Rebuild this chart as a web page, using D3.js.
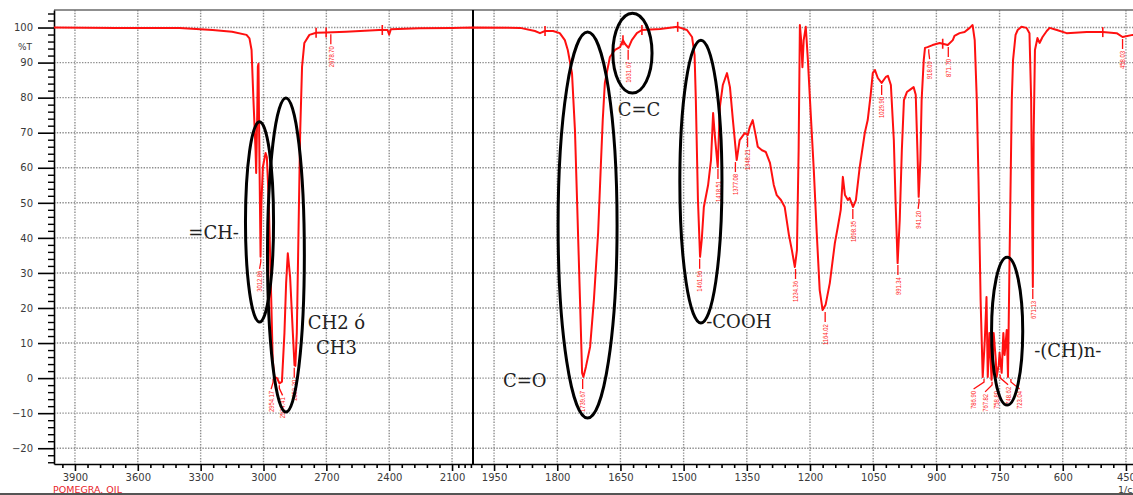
<!DOCTYPE html>
<html><head><meta charset="utf-8">
<script src="https://cdn.jsdelivr.net/npm/d3@7"></script>
<style>html,body{margin:0;padding:0;background:#fff;overflow:hidden}</style>
</head><body>
<svg id="chart" width="1133" height="495"></svg>
<script>
// ---------- DATA ----------
const wavenumber = [
 4000,3700,3400,3243,3150,3081,3067,3057,3048,3038,3035,3030,3027,3024,3019,3014,3010,3003,2990,2984,
 2975,2963,2956,2948,2935,2924,2912,2900,2892,2884,2873,2860,2852,2848,2841,2833,2825,2816,2805,2781,
 2749,2701,2606,2448,2408,2400,2392,2257,2100,2000,
 1888,1853,1841,1829,1810,1794,1782,1775,1765,1758,1753,1746,1741,1738,1732,1722,1713,1703,1696,1692,
 1687,1675,1663,1651,1644,1639,1631,1623,1611,1599,1556,1514,1492,1480,1474,1471,1466,1461,1457,1452,
 1442,1435,1430,1426,1419,1414,1407,1397,1390,1383,1374,1367,1355,1348,1343,1336,1329,1324,1314,1305,
 1295,1286,1279,1269,1260,1250,1243,1236,1231,1227,1224,1221,1218,1215,1210,1205,1200,1191,1184,1177,
 1170,1163,1153,1141,1134,1127,1122,1117,1110,1106,1098,1091,1082,1070,1063,1056,1051,1046,1039,1030,
 1020,1015,1008,1001,997,992,987,982,977,970,963,954,949,945,942,938,935,930,927,921,
 909,892,873,861,857,845,833,821,814,809,804,800,795,790,785,781,778,774,769,764,
 759,757,752,750,745,741,738,733,730,726,721,718,712,707,698,686,679,675,671,669,
 666,660,655,648,638,631,614,591,543,505,472,458,434,400
];
const transmittance = [
 100.0,99.9,99.9,99.3,98.8,97.9,96.9,93.6,79.3,65,58.5,75,88.8,89.7,60.2,34.6,50,60.2,64.2,63,
 50.8,22.3,5.2,0.3,0,-1.5,-1,12.9,27.1,35.6,28.9,12.9,3.7,3.5,12.9,41.4,69.9,88.8,95.6,97.9,
 98.5,98.6,98.8,99.3,99.3,98.0,99.5,99.8,99.9,100,
 99.9,99.0,98.4,99.0,99.0,98.4,96.4,93.6,87,70.8,50.8,22.3,1.5,0.3,3.2,8.9,22.3,41.4,62.2,73.6,
 84.2,91.6,93.6,94.4,96.4,95.3,94.2,96.4,98.4,99.3,99.6,100.2,99.3,97.3,92.2,79.3,50.8,34.6,39.4,48.8,
 55,62.2,75.6,69.3,60.2,77.3,83.6,87,83,73.6,62.2,67.9,69.9,69.3,71.6,73.6,69.3,66,65,64.5,
 61.4,55.1,52.2,50.8,48.8,40.8,36.5,31.7,36.5,65,100.7,96.4,88.7,96.4,100.2,90.7,79.3,59.4,41.4,25.1,
 19.4,20.9,27.1,38.5,43.1,48,57.4,52.2,50.8,51.4,48.8,50.8,60.2,69.9,73.6,80.8,87,87.9,85.6,84.2,
 85.9,86.2,83.6,67.9,50.8,32.8,45.1,65,79.3,81.6,82.2,83,80.8,65,51.7,62.2,79.3,90.7,94.2,94.4,
 95,95.6,95,96.4,97.6,98.4,98.7,99.9,100.7,96.4,79.3,56.5,22.3,0.3,10.9,23.1,0.3,12.9,-0.5,12.9,
 5.2,0.3,3.7,7.2,1.5,12.9,6.6,13.7,0.3,36.5,79.3,90.7,97.9,99.3,100.2,99.9,98.4,79.3,26,69.9,
 93.6,97,95.6,97.3,99,99.9,99.3,98.4,98.7,98.7,98.4,97.3,97.9,97.9
];

const peakWn    = [3012.86,2954.17,2924.41,2853.20,2678.70,1739.67,1631.67,1461.96,1418.51,1377.08,1348.21,1234.36,1164.02,1098.35,1029.90,991.34,941.20,918.09,871.70,786.90,767.82,758.80,748.62,723.04,671.13,458.03];
const peakText  = ["3012.86","2954.17","2924.41","2853.20","2678.70","1739.67","1631.67","1461.96","1418.51","1377.08","1348.21","1234.36","1164.02","1098.35","1029.90","991.34","941.20","918.09","871.70","786.90","767.82","758.80","748.62","723.04","671.13","458.03"];
const markerWn  = [2749,2701,2433,1829,1644,1599,1514,885,505];

const xMajorTicks = [3900,3600,3300,3000,2700,2400,2100,1950,1800,1650,1500,1350,1200,1050,900,750,600,450];
const yMajorTicks = [-20,-10,0,10,20,30,40,50,60,70,80,90,100];

// group annotations: wavenumber span, %T span of ellipse
const groupNames = ["=CH-","CH2/CH3","C=O","C=C","-COOH","-(CH)n-"];
const ellWnHi  = [3086,2981,1798,1668,1509,769];
const ellWnLo  = [2952,2805,1658,1575,1409,695];
const ellTHi   = [73.1,79.9,98.7,104.1,96.4,34.5];
const ellTLo   = [16.0,-9.7,-11.4,81.3,15.7,-7.7];

const noteLines = [["=CH-"],["CH2 ó","CH3"],["C=O"],["C=C"],["-COOH"],["-(CH)n-"]];
const noteWn    = [3238,2652,1877,1606,1369,588];
const noteT     = [39.7,14.0,-2.5,74.8,14.3,6.0];

// ---------- LAYOUT ----------
const svg = d3.select("#chart");
const L = 54, T0 = 10, B = 464, R = 1133;
const x = d3.scaleLinear().domain([4000, 2000, 400]).range([L, 473, 1147]);
const y = d3.scaleLinear().domain([-24.5, 105]).range([B, T0]);

svg.append("rect").attr("width",1133).attr("height",495).attr("fill","#fff");

// grid
const grid = svg.append("g").attr("stroke","#8e8e8e").attr("stroke-width",1.4).attr("stroke-dasharray","1.4,1.4");
grid.selectAll("line.h").data(yMajorTicks).join("line")
  .attr("x1",L).attr("x2",R).attr("y1",d=>y(d)).attr("y2",d=>y(d));
grid.selectAll("line.v").data(xMajorTicks).join("line")
  .attr("y1",T0).attr("y2",B).attr("x1",d=>x(d)).attr("x2",d=>x(d));

// frame
svg.append("line").attr("x1",L).attr("x2",R).attr("y1",T0).attr("y2",T0).attr("stroke","#6a6a6a").attr("stroke-width",1.5);
svg.append("line").attr("x1",x(2000)).attr("x2",x(2000)).attr("y1",T0).attr("y2",B).attr("stroke","#000").attr("stroke-width",2);
svg.append("line").attr("x1",0).attr("x2",1133).attr("y1",494).attr("y2",494).attr("stroke","#555").attr("stroke-width",2);

// axes
const fontAx = "'DejaVu Sans', Verdana, sans-serif";
function styleAxis(g){
  g.select(".domain").attr("stroke","#000").attr("stroke-width",1.6);
  g.selectAll(".tick line").attr("stroke","#000").attr("stroke-width",1.6);
  g.selectAll(".tick text").attr("fill","#3a3a3a").style("font-family",fontAx).style("font-size","10px");
}
const xMinor = d3.range(3960,2099,-60).filter(v=>!xMajorTicks.includes(v)).concat([2070,2040,2010])
  .concat(d3.range(1980,419,-30).filter(v=>!xMajorTicks.includes(v)));
svg.append("g").attr("transform",`translate(0,${B})`)
  .call(d3.axisBottom(x).tickValues(xMinor).tickSize(4).tickFormat(""))
  .call(g=>{g.select(".domain").remove(); g.selectAll(".tick line").attr("stroke","#000").attr("stroke-width",1.6);});
svg.append("g").attr("transform",`translate(0,${B})`)
  .call(d3.axisBottom(x).tickValues(xMajorTicks).tickSize(7).tickSizeOuter(0).tickPadding(3).tickFormat(d3.format("d")))
  .call(styleAxis);

const yMinor = d3.range(-24,105,2).filter(v=>v%10!==0);
svg.append("g").attr("transform",`translate(${L},0)`)
  .call(d3.axisLeft(y).tickValues(yMinor).tickSize(6).tickFormat(""))
  .call(g=>{g.select(".domain").remove(); g.selectAll(".tick line").attr("stroke","#000").attr("stroke-width",1.4);});
svg.append("g").attr("transform",`translate(${L},0)`)
  .call(d3.axisLeft(y).tickValues(yMajorTicks).tickSize(16).tickSizeOuter(0).tickPadding(5))
  .call(styleAxis);

svg.append("text").attr("x",32).attr("y",50).attr("text-anchor","end")
  .style("font-family",fontAx).style("font-size","9px").attr("fill","#3a3a3a").text("%T");
svg.append("text").attr("x",53).attr("y",492.5).style("font-family",fontAx).style("font-size","9.5px")
  .attr("fill","#e8232a").text("POMEGRA. OIL");
svg.append("text").attr("x",1118).attr("y",492.5).style("font-family",fontAx).style("font-size","9.5px")
  .attr("fill","#3a3a3a").text("1/cm");

// spectrum
const data = wavenumber.map((w,i)=>({w, t: transmittance[i]}));
const line = d3.line().x(d=>x(d.w)).y(d=>y(d.t));
svg.append("path").datum(data).attr("d",line).attr("fill","none")
  .attr("stroke","#ff1010").attr("stroke-width",2).attr("stroke-linejoin","round");

function interpT(w){
  for(let i=0;i<data.length-1;i++){
    const a=data[i], b=data[i+1];
    if(w<=a.w && w>=b.w){ const f=(a.w-w)/(a.w-b.w); return a.t+f*(b.t-a.t); }
  }
  return data[data.length-1].t;
}
function localMin(w){
  let m = interpT(w);
  data.forEach(d=>{ if(Math.abs(d.w-w)<=8 && d.t<m) m=d.t; });
  return m;
}

// peak markers (small bars)
svg.append("g").selectAll("line").data(markerWn).join("line")
  .attr("x1",d=>x(d)).attr("x2",d=>x(d)).attr("y1",d=>y(interpT(d))-5).attr("y2",d=>y(interpT(d))+5)
  .attr("stroke","#ff1010").attr("stroke-width",1.6);

// peak labels with collision spreading
const gap = 11.5;
const items = peakWn.map((w,i)=>({w, text: peakText[i], px: x(w), py: y(localMin(w))})).sort((a,b)=>a.px-b.px);
let groups = items.map(it=>{ it.lx = it.px; return [it]; });
let changed = true;
while(changed){
  changed=false;
  for(let i=0;i<groups.length-1;i++){
    const a=groups[i], b=groups[i+1];
    if(b[0].lx - a[a.length-1].lx < gap){
      const g=a.concat(b), n=g.length, m=d3.mean(g,d=>d.px);
      g.forEach((d,k)=>d.lx = m + (k-(n-1)/2)*gap);
      groups.splice(i,2,g); changed=true; break;
    }
  }
}
const pl = svg.append("g");
items.forEach(d=>{
  pl.append("path").attr("d",`M${d.px},${d.py+2}L${d.px},${d.py+5}L${d.lx},${d.py+12}`)
    .attr("fill","none").attr("stroke","#ff1010").attr("stroke-width",1.3);
  pl.append("text").attr("transform",`translate(${d.lx+2.8},${d.py+14}) rotate(-90)`)
    .attr("text-anchor","end").attr("textLength",d.text.length*3).attr("lengthAdjust","spacingAndGlyphs")
    .style("font-family","'Liberation Sans', Arial, sans-serif").style("font-size","8px")
    .attr("fill","#ff1a1a").text(d.text);
});

// ellipses
const ell = svg.append("g");
groupNames.forEach((n,i)=>{
  const x1=x(ellWnHi[i]), x2=x(ellWnLo[i]), y1=y(ellTHi[i]), y2=y(ellTLo[i]);
  ell.append("ellipse").attr("cx",(x1+x2)/2).attr("cy",(y1+y2)/2)
    .attr("rx",Math.abs(x2-x1)/2).attr("ry",Math.abs(y2-y1)/2)
    .attr("fill","none").attr("stroke","#000").attr("stroke-width",3);
});

// notes
const notes = svg.append("g");
noteLines.forEach((lines,i)=>{
  lines.forEach((s,k)=>{
    notes.append("text").attr("x",x(noteWn[i])).attr("y",y(noteT[i])+k*25)
      .attr("text-anchor","middle").style("font-family","'DejaVu Serif', Georgia, serif")
      .style("font-size","18px").attr("fill","#222").text(s);
  });
});
</script>
</body></html>
